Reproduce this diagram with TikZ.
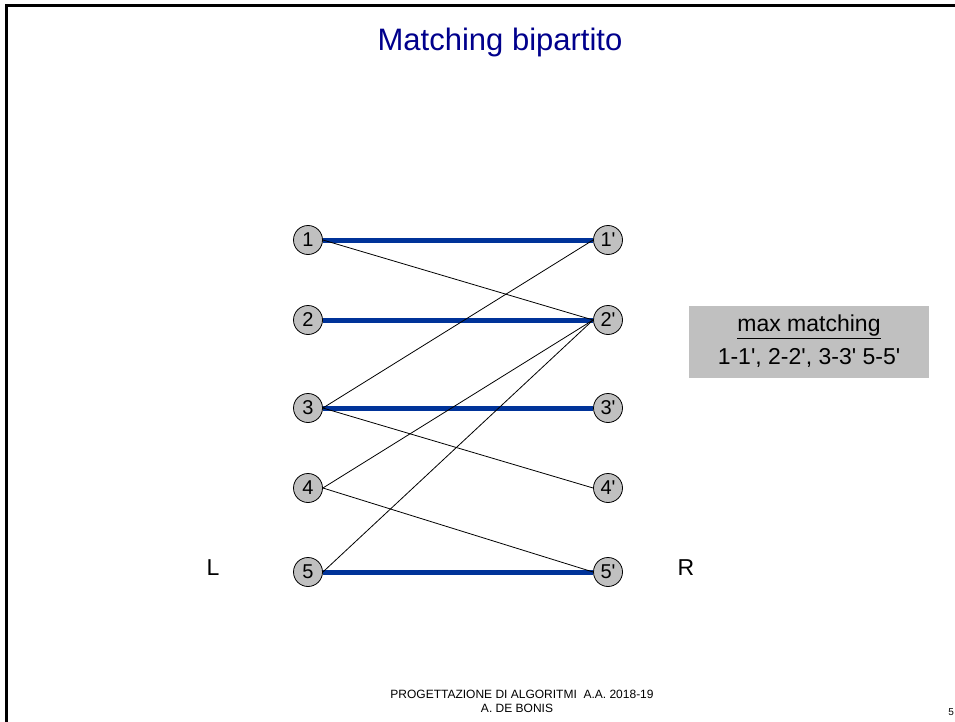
\documentclass[tikz,border=0pt]{standalone}
\usepackage{fontspec}
\setmainfont{Liberation Sans}
\newcommand\apos{\textquotesingle}
\definecolor{matchblue}{RGB}{0,51,153}
\definecolor{titleblue}{RGB}{0,0,140}
\definecolor{nodegray}{RGB}{192,192,192}
\begin{document}
\begin{tikzpicture}[x=1pt,y=-1pt,
  vtx/.style={circle,draw=black,line width=0.8pt,fill=nodegray,minimum size=29pt,inner sep=0pt,font=\fontsize{20}{22}\selectfont},
  match/.style={line width=5pt,color=matchblue},
  plain/.style={line width=0.8pt,color=black},
  side/.style={font=\fontsize{23}{26}\selectfont}]
\useasboundingbox (0,0) rectangle (955,722);
\draw[line width=3pt] (6,722) -- (6,6) -- (955,6);
\node[font=\fontsize{31}{36}\selectfont,text=titleblue] (title) at (500,42) {Matching bipartito};
\foreach \i/\y in {1/240,2/320,3/408,4/488,5/572}{
  \node[vtx] (l\i) at (308,\y) {\i};
  \node[vtx] (r\i) at (608,\y) {\i\apos};
}
\draw[match] (l1.east) -- (r1.west);
\draw[match] (l2.east) -- (r2.west);
\draw[match] (l3.east) -- (r3.west);
\draw[match] (l5.east) -- (r5.west);
\draw[plain] (l1.east) -- (r2.west);
\draw[plain] (l3.east) -- (r1.west);
\draw[plain] (l3.east) -- (r4.west);
\draw[plain] (l4.east) -- (r2.west);
\draw[plain] (l4.east) -- (r5.west);
\draw[plain] (l5.east) -- (r2.west);
\node[side] (L) at (213,568) {L};
\node[side] (R) at (686,568) {R};
\node[fill=nodegray,minimum width=240pt,minimum height=72pt,inner sep=0pt] (box) at (809,342) {};
\node[font=\fontsize{23}{26}\selectfont] (bt1) at (809,327) {\underline{max matching}};
\node[font=\fontsize{23}{26}\selectfont] (bt2) at (809,358) {1-1\apos, 2-2\apos, 3-3\apos\ 5-5\apos};
\node[font=\fontsize{12}{14}\selectfont] (f1) at (522,694) {PROGETTAZIONE DI ALGORITMI\ \ A.A. 2018-19};
\node[font=\fontsize{12}{14}\selectfont] (f2) at (517,708) {A. DE BONIS};
\node[font=\fontsize{10}{12}\selectfont,anchor=east,inner sep=1pt] (pg) at (955,712) {5};
\end{tikzpicture}
\end{document}
